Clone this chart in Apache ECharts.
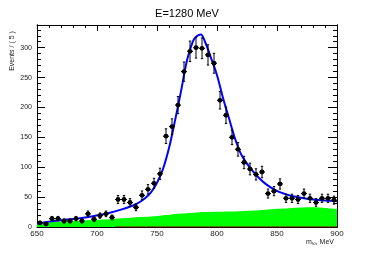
<!DOCTYPE html>
<html>
<head>
<meta charset="utf-8">
<script src="https://cdn.jsdelivr.net/npm/echarts@6/dist/echarts.min.js"></script>
<style>html,body{margin:0;padding:0;background:#fff}#c{width:374px;height:253px}</style>
</head>
<body>
<div id="c"></div>
<script>
// Data
var binCenters = [652.5,657.5,662.5,667.5,672.5,677.5,682.5,687.5,692.5,697.5,
  702.5,707.5,712.5,717.5,722.5,727.5,732.5,737.5,742.5,747.5,
  752.5,757.5,762.5,767.5,772.5,777.5,782.5,787.5,792.5,797.5,
  802.5,807.5,812.5,817.5,822.5,827.5,832.5,837.5,842.5,847.5,
  852.5,857.5,862.5,867.5,872.5,877.5,882.5,887.5,892.5,897.5];
var events = [7,5,14,14,10,10,14,10,22,13,
  19,22,16,46,46,41,33,53,63,73,
  89,152,168,204,260,294,300,299,288,274,
  212,187,150,130,108,97,88,92,56,60,
  72,48,48,46,56,48,41,48,48,45];
var errors = [2.6,2.2,3.7,3.7,3.2,3.2,3.7,3.2,4.7,3.6,
  4.4,4.7,4.0,6.8,6.8,6.4,5.7,7.3,7.9,8.5,
  9.4,12.3,13.0,14.3,16.1,17.1,17.3,17.3,17.0,16.6,
  14.6,13.7,12.2,11.4,10.4,9.8,9.4,9.6,7.5,7.7,
  8.5,6.9,6.9,6.8,7.5,6.9,6.4,6.9,6.9,6.7];
var binHalfWidth = 2.5;

var fitX = [650,660,670,680,690,700,710,720,730,735,740,745,750,755,760,765,770,775,780,783,786.5,790,795,800,805,810,815,820,825,830,835,840,845,850,855,860,865,870,880,890,900];
var fitY = [5.5,9,11.5,13.5,16,19.5,23.5,29,36,41,48,58,74,97,132,178,227,279,311,319,322,310,283,254,216,182,148,122,106,93,82,73,66,60.5,56.5,53,51,49,46,44.5,43];

var bkgX = [650,660,670,680,690,700,710,720,730,740,750,760,770,780,790,800,810,820,830,840,850,860,870,880,890,900];
var bkgY = [6,8,9,10,11,12,13,14.5,16,17,18.5,20.5,22.5,24,25,25.5,26,26.5,27.5,29,30.5,31.5,32.5,33,32,30.5];

var zeroLineX = [715,900];
var zeroLineY = [0,0];

var xTicks = {min:650, max:900, interval:50};
var yRange = {min:0, max:338, major:50, minor:10};

function pairs(xs, ys){ var o=[]; for(var i=0;i<xs.length;i++) o.push([xs[i], ys[i]]); return o; }
var pointData = []; for (var i=0;i<binCenters.length;i++) pointData.push([binCenters[i], events[i], errors[i]]);

var FF = 'Liberation Sans, Arial, sans-serif';
var chart = echarts.init(document.getElementById('c'), null, {renderer:'canvas'});

function xAx(pos, labels){
  return {type:'value', position:pos, min:xTicks.min, max:xTicks.max, interval:xTicks.interval,
    axisLine:{show:true, onZero:false, lineStyle:{color:'#000', width:1}},
    axisTick:{show:true, inside:true, length:6, lineStyle:{color:'#000'}},
    minorTick:{show:true, splitNumber:5, length:3, lineStyle:{color:'#000'}},
    splitLine:{show:false},
    axisLabel:{show:labels, fontSize:8, color:'#222', margin:3, fontFamily:FF}};
}
function yAx(pos, interval, len, labels){
  return {type:'value', position:pos, min:yRange.min, max:yRange.max, interval:interval,
    axisLine:{show:true, onZero:false, lineStyle:{color:'#000', width:1}},
    axisTick:{show:true, inside:true, length:len, lineStyle:{color:'#000'}},
    splitLine:{show:false},
    axisLabel:{show:labels, fontSize:7, color:'#222', margin:5, fontFamily:FF,
      formatter:function(v){ return (v % yRange.major === 0) ? String(v) : ''; }}};
}

chart.setOption({
  animation:false,
  backgroundColor:'#fff',
  title:{text:'E=1280 MeV', left:'center', top:3,
    textStyle:{fontSize:11, fontWeight:'normal', color:'#000', fontFamily:FF}},
  grid:{left:37, right:37, top:25, bottom:26},
  xAxis:[xAx('bottom', true), xAx('top', false)],
  yAxis:[yAx('left', yRange.major, 8, true), yAx('left', yRange.minor, 4, false),
         yAx('right', yRange.major, 9, false), yAx('right', yRange.minor, 4, false)],
  graphic:[
    {type:'text', x:12, y:51, rotation:Math.PI/2,
      style:{text:'Events / ( 5 )', fontSize:7, fill:'#222', fontFamily:FF, align:'center', verticalAlign:'middle'}},
    {type:'text', x:334, y:242,
      style:{text:'m{s|ω}, MeV', fontSize:7, fill:'#222', fontFamily:FF, align:'right', verticalAlign:'middle',
        rich:{s:{fontSize:5, fill:'#222', fontFamily:FF, padding:[4,0,0,0]}}}}
  ],
  series:[
    {type:'line', name:'bkg', data:pairs(bkgX,bkgY), smooth:0.3, symbol:'none',
      lineStyle:{width:0, color:'#00ff00'}, areaStyle:{color:'#00ff00', opacity:1}, z:1},
    {type:'line', name:'zero', data:pairs(zeroLineX,zeroLineY), symbol:'none',
      lineStyle:{width:1, color:'#8b0000'}, z:2},
    {type:'line', name:'fit', data:pairs(fitX,fitY), smooth:0.35, symbol:'none',
      lineStyle:{width:2, color:'#0000ff'}, z:3},
    {type:'custom', name:'data', data:pointData, z:4,
      renderItem:function(params, api){
        var x = api.value(0), y = api.value(1), e = api.value(2);
        var c = api.coord([x,y]);
        var top = api.coord([x, y+e]);
        var bot = api.coord([x, y-e]);
        var l = api.coord([x-binHalfWidth, y]);
        var r = api.coord([x+binHalfWidth, y]);
        var st = {stroke:'#000', lineWidth:1};
        return {type:'group', children:[
          {type:'line', shape:{x1:c[0], y1:top[1], x2:c[0], y2:bot[1]}, style:st},
          {type:'line', shape:{x1:c[0]-1.2, y1:top[1], x2:c[0]+1.2, y2:top[1]}, style:st},
          {type:'line', shape:{x1:c[0]-1.2, y1:bot[1], x2:c[0]+1.2, y2:bot[1]}, style:st},
          {type:'line', shape:{x1:l[0], y1:c[1], x2:r[0], y2:c[1]}, style:st},
          {type:'circle', shape:{cx:c[0], cy:c[1], r:2.4}, style:{fill:'#000'}}
        ]};
      }}
  ]
});
</script>
</body>
</html>
